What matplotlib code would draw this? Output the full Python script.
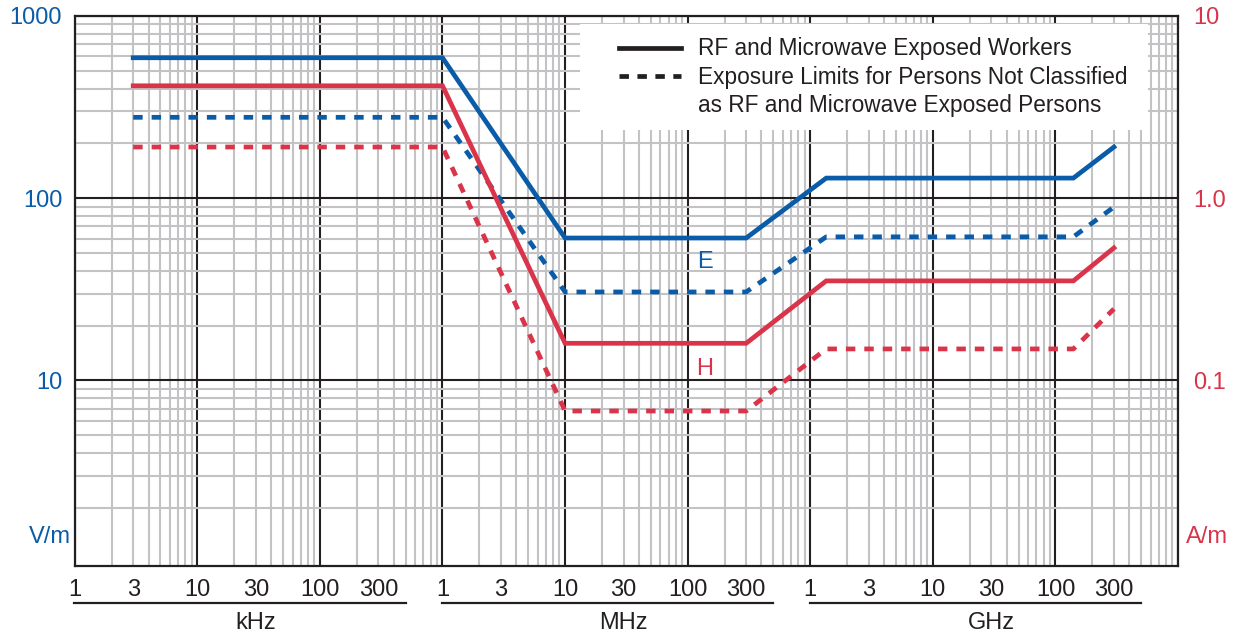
import matplotlib
matplotlib.use('Agg')
import matplotlib.pyplot as plt
from matplotlib.lines import Line2D
from matplotlib.patches import Rectangle
from matplotlib.ticker import LogLocator, NullFormatter
import matplotlib.transforms as mtransforms

plt.rcParams['font.family'] = ['Liberation Sans', 'DejaVu Sans']

# frequency break points (Hz)
freq = [3e3, 1e6, 10e6, 300e6, 1.35e9, 140e9, 300e9]
# electric field, V/m
E_workers = [590, 590, 60.5, 60.5, 129, 129, 191]
E_public = [278, 278, 30.6, 30.6, 61.4, 61.4, 89.5]
# magnetic field, A/m
H_workers = [4.14, 4.14, 0.16, 0.16, 0.352, 0.352, 0.534]
H_public = [1.91, 1.91, 0.068, 0.068, 0.149, 0.149, 0.247]

unit_starts = [1e3, 1e6, 1e9]
unit_names = ['kHz', 'MHz', 'GHz']
tick_mult = [1, 3, 10, 30, 100, 300]

BLUE = '#0a5ca8'
RED = '#d9344a'
INK = '#231f20'
FS = 17
LW = 3.4
DASH = (0, (2.0, 1.9))

fig = plt.figure(figsize=(12.39, 6.37), dpi=100)
ax = fig.add_axes([0.0603, 0.1115, 0.8905, 0.8634])
ax.set_xscale('log')
ax.set_yscale('log')
ax.set_xlim(1e3, 1e12)
ax.set_ylim(0.96, 1000)

# grid: black decades, grey minors
ax.xaxis.set_major_locator(LogLocator(base=10, numticks=30))
ax.xaxis.set_minor_locator(LogLocator(base=10, subs=range(2, 10), numticks=100))
ax.xaxis.set_minor_formatter(NullFormatter())
ax.set_yticks([10, 100, 1000], ['10', '100', '1000'])
ax.yaxis.set_minor_locator(LogLocator(base=10, subs=range(2, 10), numticks=100))
ax.yaxis.set_minor_formatter(NullFormatter())
ax.grid(True, which='minor', color='#c3c3c5', lw=1.5)
ax.grid(True, which='major', color=INK, lw=1.5)
ax.tick_params(axis='x', which='both', length=0, labelbottom=False)
ax.tick_params(axis='y', which='both', length=0, labelsize=FS, labelcolor=BLUE, pad=9)
for s in ax.spines.values():
    s.set_linewidth(1.6)
    s.set_color(INK)

ax.plot(freq, E_workers, color=BLUE, lw=LW, zorder=3, solid_joinstyle='miter')
ax.plot(freq, E_public, color=BLUE, lw=LW, ls=DASH, zorder=3)

ax2 = ax.twinx()
ax2.set_yscale('log')
ax2.set_ylim(0.0096, 10)
ax2.set_yticks([0.1, 1, 10], ['0.1', '1.0', '10'])
ax2.yaxis.set_minor_locator(LogLocator(base=10, subs=range(2, 10), numticks=100))
ax2.yaxis.set_minor_formatter(NullFormatter())
ax2.tick_params(axis='y', which='both', length=0, labelsize=FS, labelcolor=RED, pad=11)
for s in ax2.spines.values():
    s.set_visible(False)
ax2.plot(freq, H_workers, color=RED, lw=LW, zorder=3, solid_joinstyle='miter')
ax2.plot(freq, H_public, color=RED, lw=LW, ls=DASH, zorder=3)

# curve labels
ax.text(1.38e8, 44.8, 'E', color=BLUE, fontsize=FS, ha='center', va='center')
ax2.text(1.38e8, 0.116, 'H', color=RED, fontsize=FS, ha='center', va='center')

# unit labels on y axes
ax.text(-0.0034, 1.39, 'V/m', color=BLUE, fontsize=FS, ha='right', va='center',
        transform=mtransforms.blended_transform_factory(ax.transAxes, ax.transData))
ax.text(1.0072, 1.39, 'A/m', color=RED, fontsize=FS, ha='left', va='center',
        transform=mtransforms.blended_transform_factory(ax.transAxes, ax.transData))

# x tick labels grouped by unit
sec = ax.secondary_xaxis('bottom')
pos, labs = [], []
for u in unit_starts:
    for m in tick_mult:
        pos.append(u * m)
        labs.append(str(m))
sec.set_xticks(pos, labs)
sec.xaxis.set_minor_locator(plt.NullLocator())
sec.tick_params(length=0, labelsize=FS, pad=9.5, labelcolor=INK)
sec.spines['bottom'].set_visible(False)

xtr = ax.get_xaxis_transform()
for u, name in zip(unit_starts, unit_names):
    ax.add_line(Line2D([u * 0.99, u * 500], [-0.067, -0.067], transform=xtr,
                       color=INK, lw=1.6, clip_on=False))
    ax.text(u * 30, -0.104, name, transform=xtr, fontsize=FS, color=INK,
            ha='center', va='center')

# legend box
ax.add_patch(Rectangle((0.458, 0.793), 0.515, 0.192, transform=ax.transAxes,
                       facecolor='white', edgecolor='none', zorder=2))
handles = [Line2D([], [], color=INK, lw=LW),
           Line2D([], [], color=INK, lw=LW, ls=(0, (2.0, 1.8))),
           Line2D([], [], color='none')]
labels = ['RF and Microwave Exposed Workers',
          'Exposure Limits for Persons Not Classified',
          'as RF and Microwave Exposed Persons']
ax2.legend(handles, labels, loc='upper left', bbox_to_anchor=(0.4933, 0.961),
           frameon=False, fontsize=16.3, handlelength=2.75, handletextpad=0.75,
           borderpad=0, borderaxespad=0, labelspacing=0.24, labelcolor=INK)

fig.savefig('out.png', dpi=100)
